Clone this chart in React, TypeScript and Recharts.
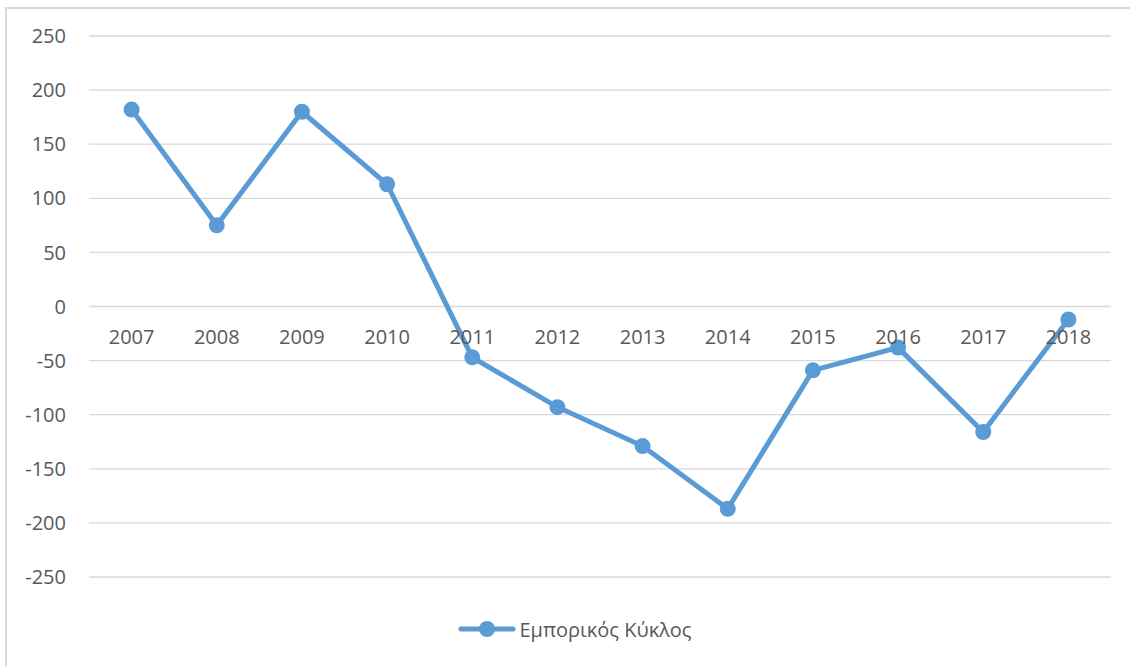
import { LineChart, Line, XAxis, YAxis, CartesianGrid, Legend } from "recharts";

const years = ["2007", "2008", "2009", "2010", "2011", "2012", "2013", "2014", "2015", "2016", "2017", "2018"];
const cycleValues = [182, 75, 180, 113, -47, -93, -129, -187, -59, -38, -116, -12];
const yTicks = [-250, -200, -150, -100, -50, 0, 50, 100, 150, 200, 250];
const seriesName = "Εμπορικός Κύκλος";

const data = years.map((year, i) => ({ year, value: cycleValues[i] }));

const BLUE = "#5b9bd5";
const TEXT = "#595959";
const GRID = "#d9d9d9";
const FONT = "'Open Sans', 'Noto Sans', sans-serif";

const W = 1123;
const H = 657;
const TOP = 27;
const PLOT_H = 541;
// the category labels sit just under the zero line, Excel style
const ZERO_Y = TOP + PLOT_H / 2;

function YearTick(props: any) {
  const { x, payload } = props;
  return (
    <text x={x} y={ZERO_Y + 32} textAnchor="middle" dominantBaseline="middle" fill={TEXT} fontSize={20} fontFamily={FONT}>
      {payload.value}
    </text>
  );
}

function LegendContent() {
  return (
    <div style={{ display: "flex", justifyContent: "center", alignItems: "flex-end", height: 66, paddingLeft: 32 }}>
      <div style={{ display: "flex", alignItems: "center", height: 30 }}>
        <svg width={58} height={20}>
          <line x1={3} y1={10} x2={55} y2={10} stroke={BLUE} strokeWidth={5} strokeLinecap="round" />
          <circle cx={29} cy={10} r={8} fill={BLUE} />
        </svg>
        <span style={{ marginLeft: 3, fontSize: 20, color: TEXT, fontFamily: FONT }}>{seriesName}</span>
      </div>
    </div>
  );
}

export default function App() {
  return (
    <div
      style={{
        position: "absolute",
        left: 5,
        top: 7,
        width: W + 10,
        height: H + 10,
        borderLeft: `2px solid ${GRID}`,
        borderTop: `2px solid ${GRID}`,
        background: "#fff",
      }}
    >
      <LineChart width={W} height={H} data={data} margin={{ top: TOP, right: 19, left: 0, bottom: 22 }}>
        <CartesianGrid vertical={false} stroke={GRID} strokeWidth={1.3} />
        <XAxis
          dataKey="year"
          height={1}
          axisLine={false}
          tickLine={false}
          tick={<YearTick />}
          padding={{ left: 42.6, right: 42.6 }}
          interval={0}
        />
        <YAxis
          width={82}
          domain={[-250, 250]}
          ticks={yTicks}
          axisLine={false}
          tickLine={false}
          tickSize={0}
          tickMargin={23}
          tick={{ fill: TEXT, fontSize: 20, fontFamily: FONT }}
        />
        <Legend verticalAlign="bottom" height={66} content={<LegendContent />} />
        <Line
          type="linear"
          dataKey="value"
          name={seriesName}
          stroke={BLUE}
          strokeWidth={5}
          dot={{ r: 7, fill: BLUE, stroke: BLUE, strokeWidth: 2 }}
          activeDot={false}
          isAnimationActive={false}
        />
      </LineChart>
    </div>
  );
}
